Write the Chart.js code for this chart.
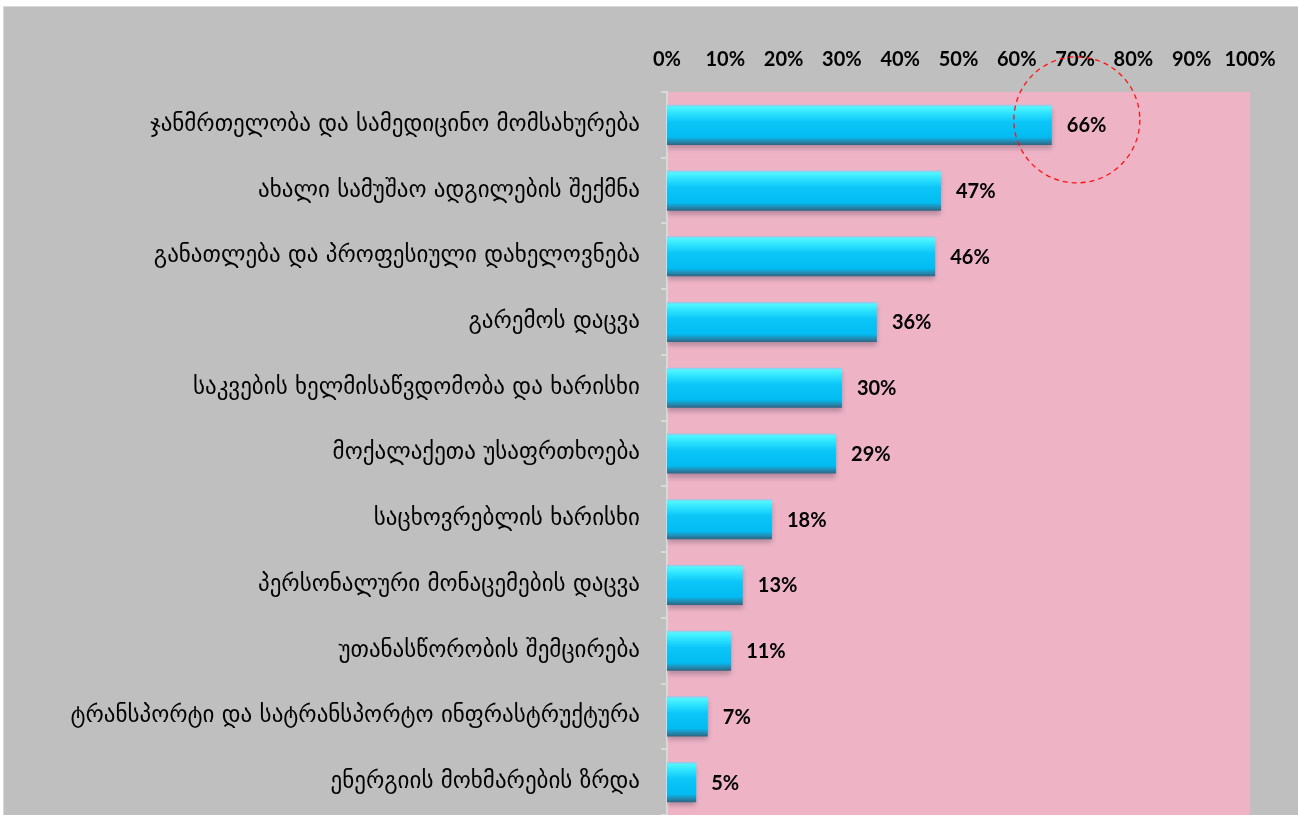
<!DOCTYPE html>
<html>
<head>
<meta charset="utf-8">
<script src="https://cdn.jsdelivr.net/npm/chart.js@4"></script>
<style>
  body { margin: 0; background: #ffffff; }
  #wrap {
    position: absolute; left: 3px; top: 6px;
    width: 1294px; height: 808px;
    border-top: 1px solid #d9d9d9; border-left: 1px solid #d9d9d9;
    background: #bfbfbf;
  }
  canvas { display: block; }
</style>
</head>
<body>
<div id="wrap"><canvas id="chart" width="1294" height="808"></canvas></div>
<script>
var categories = [
  "ჯანმრთელობა და სამედიცინო მომსახურება",
  "ახალი სამუშაო ადგილების შექმნა",
  "განათლება და პროფესიული დახელოვნება",
  "გარემოს დაცვა",
  "საკვების ხელმისაწვდომობა და ხარისხი",
  "მოქალაქეთა უსაფრთხოება",
  "საცხოვრებლის ხარისხი",
  "პერსონალური მონაცემების დაცვა",
  "უთანასწორობის შემცირება",
  "ტრანსპორტი და სატრანსპორტო ინფრასტრუქტურა",
  "ენერგიის მოხმარების ზრდა"
];
var values = [66, 47, 46, 36, 30, 29, 18, 13, 11, 7, 5];
var xTicks = [0, 10, 20, 30, 40, 50, 60, 70, 80, 90, 100];

var numFont = "Lato, 'Liberation Sans', sans-serif";
var geoFont = "'DejaVu Sans', sans-serif";

function barGradient(c) {
  var chart = c.chart;
  var ys = chart.scales.y;
  if (!ys || ys.top === undefined) return '#00bff5';
  var yc = ys.getPixelForValue(c.dataIndex);
  var h = ys.height / categories.length * 0.61 / 2;
  var g = chart.ctx.createLinearGradient(0, yc - h, 0, yc + h);
  g.addColorStop(0, '#a4c0e4');
  g.addColorStop(0.06, '#50f6ff');
  g.addColorStop(0.2, '#30e4ff');
  g.addColorStop(0.42, '#0cc6f8');
  g.addColorStop(0.8, '#02bcf2');
  g.addColorStop(0.9, '#2090b8');
  g.addColorStop(1, '#2e6482');
  return g;
}

var shadowPlugin = {
  id: 'shadow',
  beforeDatasetDraw: function(chart) {
    var ctx = chart.ctx;
    ctx.save();
    ctx.shadowColor = 'rgba(70,60,80,0.35)';
    ctx.shadowBlur = 5;
    ctx.shadowOffsetY = 4;
  },
  afterDatasetDraw: function(chart) {
    chart.ctx.restore();
  }
};

var plotBg = {
  id: 'plotBg',
  beforeDraw: function(chart) {
    var a = chart.chartArea, ctx = chart.ctx;
    ctx.save();
    ctx.fillStyle = '#efb3c6';
    ctx.fillRect(a.left, a.top, a.right - a.left, a.bottom - a.top);
    ctx.restore();
  }
};

var valueLabels = {
  id: 'valueLabels',
  afterDatasetsDraw: function(chart) {
    var ctx = chart.ctx;
    var meta = chart.getDatasetMeta(0);
    ctx.save();
    ctx.font = 'bold 20px ' + numFont;
    ctx.fillStyle = '#000000';
    ctx.textAlign = 'left';
    ctx.textBaseline = 'middle';
    meta.data.forEach(function(bar, i) {
      ctx.fillText(values[i] + '%', bar.x + 15, bar.y + 1);
    });
    ctx.restore();
  }
};

var circleNote = {
  id: 'circleNote',
  afterDraw: function(chart) {
    var ctx = chart.ctx;
    var cx = chart.scales.x.getPixelForValue(70.3);
    var cy = chart.scales.y.getPixelForValue(0) - 5;
    ctx.save();
    ctx.strokeStyle = '#ff1010';
    ctx.lineWidth = 1.3;
    ctx.setLineDash([5, 4]);
    ctx.beginPath();
    ctx.arc(cx, cy, 63, 0, Math.PI * 2);
    ctx.stroke();
    ctx.restore();
  }
};

new Chart(document.getElementById('chart'), {
  type: 'bar',
  data: {
    labels: categories,
    datasets: [{
      data: values,
      backgroundColor: barGradient,
      borderWidth: 0,
      categoryPercentage: 1,
      barPercentage: 0.61
    }]
  },
  options: {
    indexAxis: 'y',
    responsive: false,
    animation: false,
    layout: { padding: { left: 0, right: 48, top: 0, bottom: 0 } },
    plugins: { legend: { display: false }, tooltip: { enabled: false } },
    scales: {
      x: {
        position: 'top',
        min: 0, max: 100,
        afterBuildTicks: function(s) { s.ticks = xTicks.map(function(v) { return { value: v }; }); },
        afterFit: function(s) { s.height = 85; },
        grid: { display: false, drawTicks: false },
        border: { display: false },
        ticks: {
          callback: function(v) { return v + '%'; },
          color: '#000000',
          font: { family: numFont, size: 20, weight: 'bold' },
          padding: 20,
          maxRotation: 0,
          autoSkip: false
        }
      },
      y: {
        afterFit: function(s) { s.width = 663; s.paddingTop = 0; s.paddingBottom = 0; },
        grid: { drawOnChartArea: false, drawTicks: true, tickLength: 6, color: '#d9d9d9', lineWidth: 2 },
        border: { display: true, color: '#d9d9d9', width: 2 },
        ticks: {
          color: '#000000',
          font: { family: geoFont, size: 23 },
          padding: 21,
          autoSkip: false
        }
      }
    }
  },
  plugins: [plotBg, shadowPlugin, valueLabels, circleNote]
});
</script>
</body>
</html>
